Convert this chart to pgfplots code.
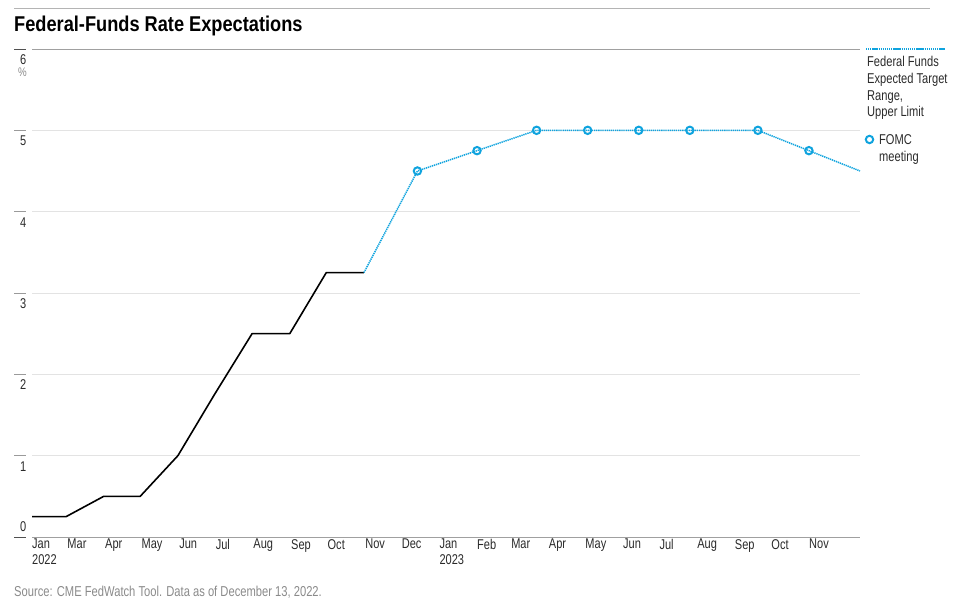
\documentclass[border=0pt]{standalone}
\usepackage{pgfplots}
\pgfplotsset{compat=1.18}
\usepackage{fontspec}
\setmainfont{Liberation Sans}[FakeStretch=0.78]
\newfontfamily\titlefont{Liberation Sans}[FakeStretch=0.85]
\definecolor{fedblue}{HTML}{0FA3DE}
\definecolor{gridgray}{HTML}{E3E3E3}
\definecolor{darkline}{HTML}{A0A0A0}
\definecolor{toprule}{HTML}{B4B4B4}
\definecolor{tickdark}{HTML}{505050}
\definecolor{ticklight}{HTML}{9A9A9A}
\definecolor{txt}{HTML}{2A2A2A}
\definecolor{srcgray}{HTML}{8A8A8A}
\begin{document}
\begin{tikzpicture}[x=1bp,y=1bp]
\path[use as bounding box] (0,0) rectangle (964,607);
% top rule and title
\draw[toprule, line width=0.8] (14,599) -- (930,599);
\node[anchor=base west, inner sep=0pt, font=\titlefont\fontsize{21.5}{24}\selectfont\bfseries, text=black] at (14,575.5) {Federal-Funds Rate Expectations};
% frame lines
\draw[darkline, line width=0.8] (32,558) -- (860,558);
\draw[darkline, line width=0.8] (32,70) -- (860,70);
\draw[tickdark, line width=0.8] (14,558) -- (26,558);
\draw[tickdark, line width=0.8] (14,70) -- (26,70);
\foreach \v in {1,2,3,4,5} {
  \draw[ticklight, line width=0.8] (14,{70+81.333*\v}) -- (26,{70+81.333*\v});
  \node[anchor=north east, inner sep=0pt, font=\fontsize{14.2}{16}\selectfont, text=txt] at (26.5,{70+81.333*\v-5.5}) {\v};
}
\node[anchor=north east, inner sep=0pt, font=\fontsize{14.2}{16}\selectfont, text=txt] at (26.5,552.5) {6};
\node[anchor=north east, inner sep=0pt, font=\fontsize{12.5}{13}\selectfont, text=srcgray] at (27,539) {\%};
\node[anchor=base east, inner sep=0pt, font=\fontsize{14.2}{16}\selectfont, text=txt] at (26.5,75.5) {0};
\begin{axis}[
  at={(32bp,70bp)}, anchor=south west, scale only axis,
  width=828bp, height=488bp,
  xmin=30, xmax=711, ymin=0, ymax=6,
  clip=false,
  axis line style={draw=none},
  ytick={1,2,3,4,5}, yticklabels={},
  ymajorgrids, grid style={gridgray, line width=0.8bp},
  major tick length=0pt,
  xtick={30,59,90,120,151,181,212,243,273,304,334,365,396,424,455,485,516,546,577,608,638,669},
  xticklabels={{Jan\\2022},Mar,Apr,May,Jun,Jul,Aug,Sep,Oct,Nov,Dec,{Jan\\2023},Feb,Mar,Apr,May,Jun,Jul,Aug,Sep,Oct,Nov},
  xticklabel style={anchor=north west, align=left, inner sep=0pt, font=\fontsize{14.2}{16}\selectfont, text=txt, yshift=-2bp},
]
\addplot[black, line width=1.6bp, line join=round] coordinates {
  (30,0.25) (58,0.25) (89,0.5) (119,0.5) (150,1.0) (180,1.75) (211,2.5) (242,2.5) (272,3.25) (303,3.25)
};
\addplot[fedblue, line width=1.5bp, dash pattern=on 1.3bp off 0.8bp] coordinates {
  (303,3.25) (347,4.5) (396,4.75) (445,5) (487,5) (529,5) (571,5) (627,5) (669,4.75) (711,4.5)
};
\addplot[fedblue, only marks, mark=o, mark size=3.7bp, mark options={line width=2bp, solid}] coordinates {
  (347,4.5) (396,4.75) (445,5) (487,5) (529,5) (571,5) (627,5) (669,4.75)
};
\end{axis}
% legend
\draw[fedblue, line width=1.5, dash pattern=on 1.3 off 0.8] (866,558) -- (945,558);
\begin{scope}[every node/.style={anchor=base west, inner sep=0pt, font=\fontsize{14.3}{17}\selectfont, text=txt}]
\node at (867,540.3) {Federal Funds};
\node at (867,523.5) {Expected Target};
\node at (867,506.7) {Range,};
\node at (867,490) {Upper Limit};
\node at (879,462) {FOMC};
\node at (879,445.3) {meeting};
\end{scope}
\draw[fedblue, line width=2] (869.5,467.5) circle (3.7);
% source
\node[anchor=base west, inner sep=0pt, font=\fontsize{14.4}{16}\selectfont, text=srcgray] at (14,10) {Source: CME FedWatch Tool. Data as of December 13, 2022.};
\end{tikzpicture}
\end{document}
